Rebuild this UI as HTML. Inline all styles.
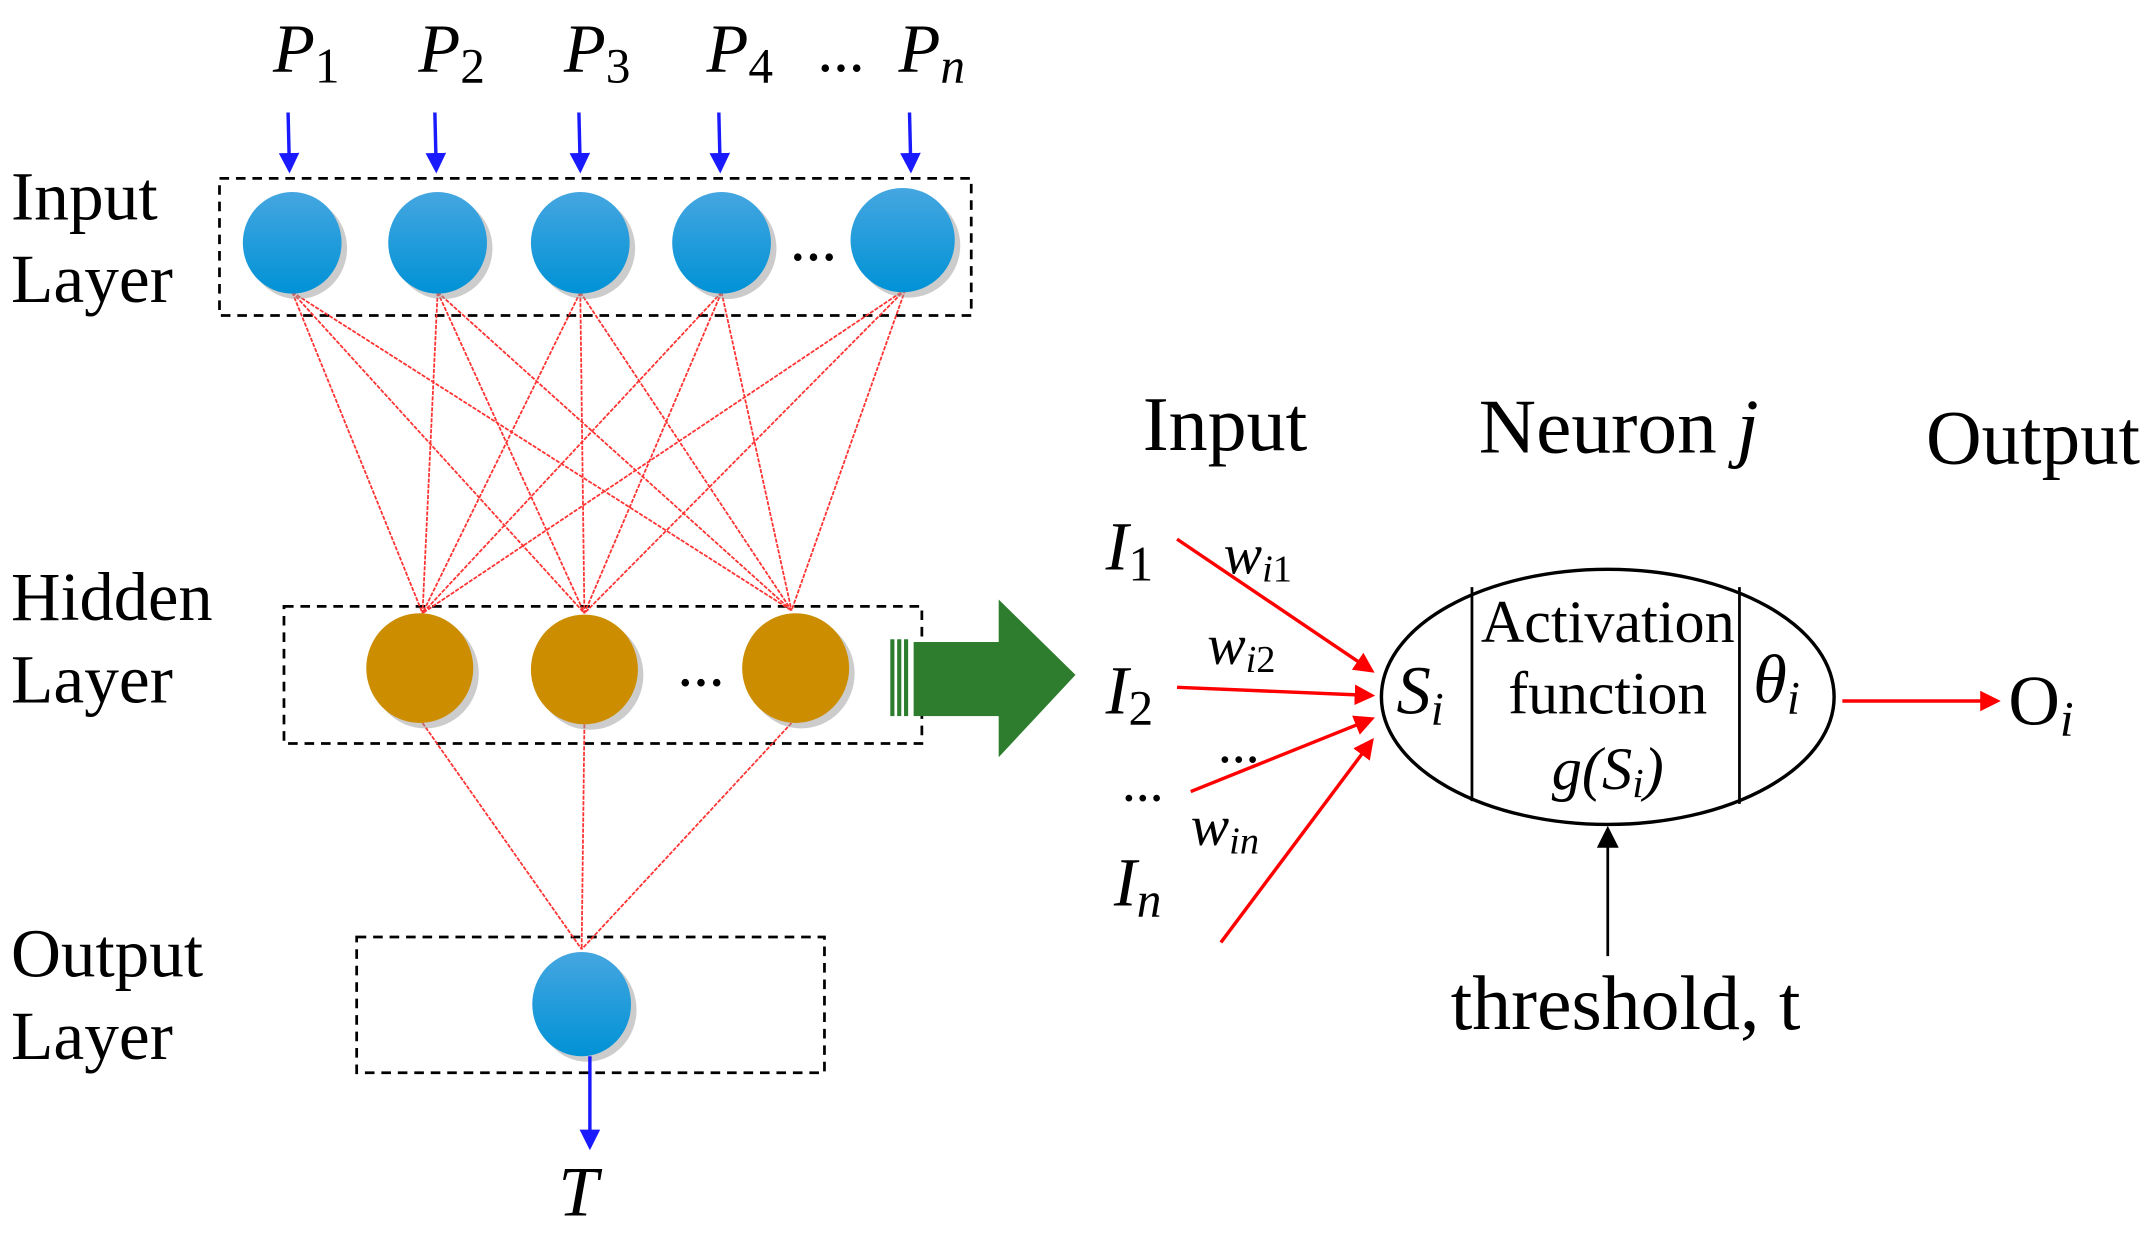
<!DOCTYPE html>
<html><head><meta charset="utf-8"><style>
html,body{margin:0;padding:0;background:#fff;}
svg{display:block;}
text{font-family:"Liberation Serif",serif;fill:#000;}
.it{font-style:italic;}
</style></head><body>
<svg width="2151" height="1236" viewBox="0 0 1568 901" xmlns="http://www.w3.org/2000/svg">
<defs>
<linearGradient id="bl" x1="0" y1="0" x2="0" y2="1"><stop offset="0" stop-color="#45a6e0"/><stop offset="1" stop-color="#0092d6"/></linearGradient>
<marker id="ab" markerWidth="6" markerHeight="6" refX="5" refY="3" orient="auto" markerUnits="strokeWidth"><path d="M0,0L6,3L0,6z" fill="#1a1aff"/></marker>
<marker id="ar" markerWidth="6" markerHeight="6" refX="5" refY="3" orient="auto" markerUnits="strokeWidth"><path d="M0,0L6,3L0,6z" fill="#f00"/></marker>
<marker id="ak" markerWidth="8" markerHeight="8" refX="7" refY="4" orient="auto" markerUnits="strokeWidth"><path d="M0,0L8,4L0,8z" fill="#000"/></marker>
</defs>
<g font-size="50">
<text x="8" y="160" textLength="107" lengthAdjust="spacingAndGlyphs">Input</text><text x="8" y="220" textLength="118" lengthAdjust="spacingAndGlyphs">Layer</text>
<text x="8" y="452" textLength="147" lengthAdjust="spacingAndGlyphs">Hidden</text><text x="8" y="512" textLength="118" lengthAdjust="spacingAndGlyphs">Layer</text>
<text x="8" y="712" textLength="140" lengthAdjust="spacingAndGlyphs">Output</text><text x="8" y="772" textLength="118" lengthAdjust="spacingAndGlyphs">Layer</text>
</g>
<g font-size="50" class="it">
<text x="199" y="52" class="it">P<tspan font-size="36" dy="8" font-style="normal">1</tspan></text>
<text x="305" y="52" class="it">P<tspan font-size="36" dy="8" font-style="normal">2</tspan></text>
<text x="411" y="52" class="it">P<tspan font-size="36" dy="8" font-style="normal">3</tspan></text>
<text x="515" y="52" class="it">P<tspan font-size="36" dy="8" font-style="normal">4</tspan></text>
<text x="655" y="52" class="it">P<tspan font-size="36" dy="8">n</tspan></text>
</g>
<text x="596" y="52" font-size="34" font-weight="bold">…</text>
<g stroke="#1a1aff" stroke-width="2.5" marker-end="url(#ab)">
<line x1="210" y1="82" x2="211" y2="124"/><line x1="317" y1="82" x2="318" y2="124"/>
<line x1="422" y1="82" x2="423" y2="124"/><line x1="524" y1="82" x2="525" y2="124"/>
<line x1="663" y1="82" x2="664" y2="124"/>
</g>
<g fill="none" stroke="#000" stroke-width="2" stroke-dasharray="7,5">
<rect x="160" y="130" width="548" height="100"/>
<rect x="207" y="442" width="465" height="100"/>
<rect x="260" y="683" width="341" height="99"/>
</g>
<g stroke="#f33" stroke-width="1.3" stroke-dasharray="3,1">
<line x1="213" y1="213" x2="308" y2="447"/><line x1="213" y1="213" x2="426" y2="447"/><line x1="213" y1="213" x2="577" y2="445"/>
<line x1="319" y1="213" x2="308" y2="447"/><line x1="319" y1="213" x2="426" y2="447"/><line x1="319" y1="213" x2="577" y2="445"/>
<line x1="423" y1="213" x2="308" y2="447"/><line x1="423" y1="213" x2="426" y2="447"/><line x1="423" y1="213" x2="577" y2="445"/>
<line x1="526" y1="213" x2="308" y2="447"/><line x1="526" y1="213" x2="426" y2="447"/><line x1="526" y1="213" x2="577" y2="445"/>
<line x1="660" y1="211" x2="308" y2="447"/><line x1="660" y1="211" x2="426" y2="447"/><line x1="660" y1="211" x2="577" y2="445"/>
<line x1="308" y1="527" x2="424" y2="692"/><line x1="426" y1="528" x2="424" y2="692"/><line x1="577" y1="527" x2="424" y2="692"/>
</g>
<g fill="#999" opacity="0.5">
<ellipse cx="217" cy="181" rx="36" ry="37"/><ellipse cx="323" cy="181" rx="36" ry="37"/><ellipse cx="427" cy="181" rx="36" ry="37"/><ellipse cx="530" cy="181" rx="36" ry="37"/><ellipse cx="662" cy="179" rx="38" ry="38"/>
<ellipse cx="428" cy="736" rx="36" ry="38"/>
<ellipse cx="310" cy="491" rx="39" ry="40"/><ellipse cx="430" cy="492" rx="39" ry="40"/><ellipse cx="584" cy="491" rx="39" ry="40"/>
</g>
<g fill="url(#bl)">
<ellipse cx="213" cy="177" rx="36" ry="37"/><ellipse cx="319" cy="177" rx="36" ry="37"/><ellipse cx="423" cy="177" rx="36" ry="37"/><ellipse cx="526" cy="177" rx="36" ry="37"/><ellipse cx="658" cy="175" rx="38" ry="38"/>
<ellipse cx="424" cy="732" rx="36" ry="38"/>
</g>
<g fill="#cc8e00">
<ellipse cx="306" cy="487" rx="39" ry="40"/><ellipse cx="426" cy="488" rx="39" ry="40"/><ellipse cx="580" cy="487" rx="39" ry="40"/>
</g>
<text x="576" y="190" font-size="34" font-weight="bold">…</text>
<text x="494" y="500" font-size="34" font-weight="bold">…</text>
<line x1="430" y1="770" x2="430" y2="836" stroke="#1a1aff" stroke-width="2.5" marker-end="url(#ab)"/>
<text x="407" y="886" font-size="52" class="it">T</text>
<g fill="#2e7d2e">
<rect x="649" y="466" width="3" height="56"/><rect x="654" y="466" width="3" height="56"/><rect x="659" y="466" width="3" height="56"/>
<rect x="666" y="468" width="64" height="54"/>
<path d="M728,437 L784,492 L728,552 Z"/>
</g>
<g font-size="56">
<text x="833" y="328" textLength="120" lengthAdjust="spacingAndGlyphs">Input</text>
<text x="1078" y="330" textLength="204" lengthAdjust="spacingAndGlyphs">Neuron <tspan class="it">j</tspan></text>
<text x="1404" y="338" textLength="156" lengthAdjust="spacingAndGlyphs">Output</text>
</g>
<g font-size="50" class="it">
<text x="806" y="415" class="it">I<tspan font-size="36" dy="8" font-style="normal">1</tspan></text>
<text x="806" y="520" class="it">I<tspan font-size="36" dy="8" font-style="normal">2</tspan></text>
<text x="812" y="660" class="it">I<tspan font-size="36" dy="8">n</tspan></text>
<text x="892" y="418" font-size="42" class="it">w<tspan font-size="28" dy="6">i</tspan><tspan font-size="28" font-style="normal">1</tspan></text>
<text x="880" y="484" font-size="42" class="it">w<tspan font-size="28" dy="6">i</tspan><tspan font-size="28" font-style="normal">2</tspan></text>
<text x="868" y="616" font-size="42" class="it">w<tspan font-size="28" dy="6">in</tspan></text>
</g>
<text x="888" y="556" font-size="30" font-weight="bold">…</text>
<text x="818" y="584" font-size="30" font-weight="bold">…</text>
<g stroke="#f00" stroke-width="2.5" marker-end="url(#ar)">
<line x1="858" y1="393" x2="1000" y2="489"/>
<line x1="858" y1="501" x2="1000" y2="507"/>
<line x1="868" y1="577" x2="1000" y2="524"/>
<line x1="890" y1="687" x2="1000" y2="540"/>
<line x1="1343" y1="511" x2="1456" y2="511"/>
</g>
<ellipse cx="1172" cy="508" rx="165" ry="93" fill="none" stroke="#000" stroke-width="2.5"/>
<line x1="1073" y1="428" x2="1073" y2="584" stroke="#000" stroke-width="2"/>
<line x1="1268" y1="428" x2="1268" y2="586" stroke="#000" stroke-width="2"/>
<text x="1018" y="520" font-size="50" class="it">S<tspan font-size="34" dy="8">i</tspan></text>
<text x="1172" y="468" font-size="44" text-anchor="middle" textLength="185" lengthAdjust="spacingAndGlyphs">Activation</text>
<text x="1172" y="520" font-size="44" text-anchor="middle" textLength="145" lengthAdjust="spacingAndGlyphs">function</text>
<text x="1172" y="575" font-size="44" text-anchor="middle" class="it">g(S<tspan font-size="30" dy="6">i</tspan><tspan dy="-6">)</tspan></text>
<text x="1278" y="512" font-size="50" class="it">θ<tspan font-size="34" dy="8">i</tspan></text>
<text x="1464" y="528" font-size="52">O<tspan font-size="36" dy="8" class="it">i</tspan></text>
<line x1="1172" y1="697" x2="1172" y2="604" stroke="#000" stroke-width="2" marker-end="url(#ak)"/>
<text x="1185" y="750" font-size="56" text-anchor="middle" textLength="255" lengthAdjust="spacingAndGlyphs">threshold, t</text>
</svg>
</body></html>
